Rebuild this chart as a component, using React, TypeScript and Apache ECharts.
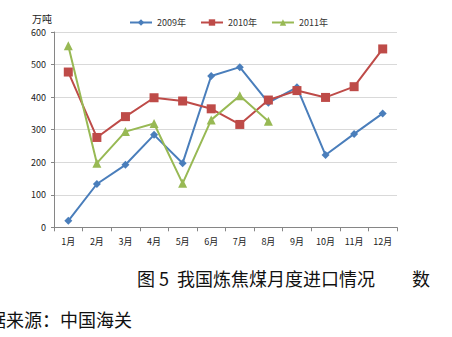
import React, { useEffect, useRef } from "react";
import * as echarts from "echarts";

const months = ["1月", "2月", "3月", "4月", "5月", "6月", "7月", "8月", "9月", "10月", "11月", "12月"];
const s2009 = [20, 133, 192, 284, 197, 465, 492, 383, 430, 222, 287, 350];
const s2010 = [477, 276, 340, 398, 388, 364, 316, 391, 420, 399, 432, 548];
const s2011 = [558, 197, 294, 319, 135, 330, 404, 326];
const seriesNames = ["2009年", "2010年", "2011年"];
const colors = ["#4A7EBB", "#BE4B48", "#98B954"];
const unitLabel = "万吨";

export default function App() {
  const ref = useRef<HTMLDivElement>(null);
  useEffect(() => {
    const chart = echarts.init(ref.current!, null, { renderer: "svg" });
    const font = "'Noto Sans CJK SC', 'Noto Sans', sans-serif";
    chart.setOption({
      animation: false,
      backgroundColor: "#ffffff",
      textStyle: { fontFamily: font },
      legend: {
        top: 13,
        left: 124,
        itemGap: 14,
        itemWidth: 22,
        itemHeight: 8,
        textStyle: { fontSize: 9, color: "#333", fontFamily: font },
        data: seriesNames,
      },
      grid: { left: 54, top: 32, width: 343, height: 195.3 },
      xAxis: {
        type: "category",
        data: months,
        boundaryGap: true,
        axisLine: { lineStyle: { color: "#868686" } },
        axisTick: { show: true, length: 4, lineStyle: { color: "#868686" } },
        axisLabel: { fontSize: 9, color: "#222", margin: 10, fontFamily: font },
      },
      yAxis: {
        type: "value",
        min: 0,
        max: 600,
        interval: 100,
        axisLine: { show: true, lineStyle: { color: "#868686" } },
        axisTick: { show: true, length: 3, lineStyle: { color: "#868686" } },
        axisLabel: { fontSize: 9, color: "#222", margin: 8, fontFamily: font },
        splitLine: { lineStyle: { color: "#D9D9D9" } },
      },
      series: [
        {
          name: seriesNames[0], type: "line", data: s2009,
          symbol: "diamond", symbolSize: 8,
          lineStyle: { width: 2, color: colors[0] }, itemStyle: { color: colors[0] },
        },
        {
          name: seriesNames[1], type: "line", data: s2010,
          symbol: "rect", symbolSize: 9,
          lineStyle: { width: 2, color: colors[1] }, itemStyle: { color: colors[1] },
        },
        {
          name: seriesNames[2], type: "line", data: s2011,
          symbol: "triangle", symbolSize: 9,
          lineStyle: { width: 2, color: colors[2] }, itemStyle: { color: colors[2] },
        },
      ],
      graphic: [
        {
          type: "text", x: 32, y: 13,
          style: { text: unitLabel, font: `10px ${font}`, fill: "#222" },
        },
        {
          type: "text", x: 137, y: 269,
          style: { text: "图 5  我国炼焦煤月度进口情况", font: `18px ${font}`, fill: "#111" },
        },
        {
          type: "text", x: 412, y: 269,
          style: { text: "数", font: `18px ${font}`, fill: "#111" },
        },
        {
          type: "text", x: -12, y: 310,
          style: { text: "据来源：中国海关", font: `18px ${font}`, fill: "#111" },
        },
      ],
    });
    return () => chart.dispose();
  }, []);
  return <div ref={ref} style={{ position: "absolute", left: 0, top: 0, width: 452, height: 337 }} />;
}
